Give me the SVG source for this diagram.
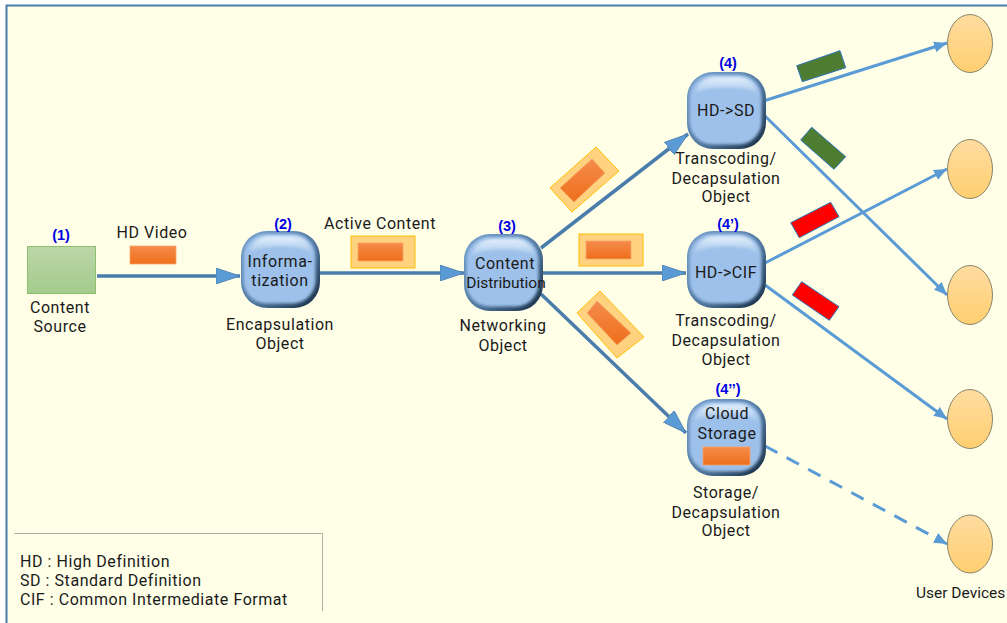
<svg xmlns="http://www.w3.org/2000/svg" width="1007" height="623" viewBox="0 0 1007 623">
<style>
text{font-family:Roboto,"Noto Sans",sans-serif;font-size:16px;letter-spacing:.55px;fill:#1a1a1a;text-anchor:middle}
.n{font-family:"Liberation Sans",Arial,sans-serif;font-size:14.500px;letter-spacing:0;font-weight:bold;fill:#0000e6}
.l{text-anchor:start}
.c{fill:none;stroke:#4a7dac;stroke-width:3.500}
.u{fill:none;stroke:#5b9bd5;stroke-width:3}
.ell{fill:url(#pe);stroke:#8a8468;stroke-width:1}
.or{fill:url(#po);stroke:#f4a46a;stroke-width:.8}
.hl{fill:#ffd27f;stroke:#ffc000;stroke-width:1}
.gr{fill:#4e7d32;stroke:#2e75b6;stroke-width:1}
.rd{fill:#ff0000;stroke:#2e75b6;stroke-width:1}
</style>
<defs>
<linearGradient id="pe" x1="0" y1="0" x2="0" y2="1"><stop offset="0" stop-color="#ffdca0"/><stop offset="1" stop-color="#ffcf70"/></linearGradient>
<linearGradient id="po" x1="0" y1="0" x2="0" y2="1"><stop offset="0" stop-color="#f58b4c"/><stop offset="1" stop-color="#ee6f1a"/></linearGradient>
<linearGradient id="pg" x1="0" y1="0" x2="0" y2="1"><stop offset="0" stop-color="#bcd6a8"/><stop offset="1" stop-color="#a4cb8c"/></linearGradient>
<linearGradient id="edge" x1="0" y1="0" x2="1" y2="1"><stop offset="0" stop-color="#6f9bc8"/><stop offset=".55" stop-color="#4f779f"/><stop offset="1" stop-color="#14283e"/></linearGradient>
<linearGradient id="hi" x1="0" y1="0" x2="0" y2="1"><stop offset="0" stop-color="#e4f0fb"/><stop offset="1" stop-color="#a5c6ec"/></linearGradient>
<filter id="soft" x="-10%" y="-10%" width="120%" height="120%"><feGaussianBlur stdDeviation="1.600"/></filter>
<marker id="a1" viewBox="0 0 24 16" refX="24" refY="8" markerWidth="24" markerHeight="16" markerUnits="userSpaceOnUse" orient="auto"><path d="M0 0L24 8L0 16Z" fill="#5b9bd5" stroke="#4a7dac" stroke-width=".8"/></marker>
<marker id="a2" viewBox="0 0 13 11" refX="13" refY="5.500" markerWidth="13" markerHeight="11" markerUnits="userSpaceOnUse" orient="auto"><path d="M0 0L13 5.500L0 11Z" fill="#5b9bd5"/></marker>
<symbol id="blob" viewBox="0 0 79 77" overflow="visible">
<rect x="0" y="0" width="79" height="77" rx="26" fill="url(#edge)"/>
<rect x="2.500" y="2.500" width="72" height="70" rx="23" fill="#9dc1ea" filter="url(#soft)"/>
<path d="M8 22C10 9 20 5 30 5H50C60 5 69 10 71 22C60 13 20 13 8 22Z" fill="url(#hi)" filter="url(#soft)"/>
</symbol>
</defs>
<rect width="1007" height="623" fill="#ffffff"/>
<rect x="6.500" y="5.500" width="1010" height="630" fill="#ffffe8" stroke="#4a7dac" stroke-width="2"/>

<g id="connectors">
<path class="c" marker-end="url(#a1)" d="M97 276H240"/>
<path class="c" marker-end="url(#a1)" d="M320 273H464"/>
<path class="c" marker-end="url(#a1)" d="M541 248L688 134"/>
<path class="c" marker-end="url(#a1)" d="M543 273H686"/>
<path class="c" marker-end="url(#a1)" d="M541 294L686 433"/>
<path class="u" marker-end="url(#a2)" d="M765 100.500L947 43"/>
<path class="u" marker-end="url(#a2)" d="M765 116L947 295"/>
<path class="u" marker-end="url(#a2)" d="M765 263L947 169"/>
<path class="u" marker-end="url(#a2)" d="M765 285L947 419"/>
<path class="u" marker-end="url(#a2)" stroke-dasharray="14 10.500" d="M765 446L947 544"/>
</g>

<g id="packets">
<rect class="or" x="130" y="246" width="46" height="18"/>
<rect class="hl" x="351" y="236" width="64" height="32"/>
<rect class="or" x="358" y="243" width="45" height="18"/>
<polygon class="hl" points="596,147 619,171 572,212 550,188"/>
<polygon class="or" points="592,159 605,173 574,202 560,188"/>
<rect class="hl" x="579" y="234" width="64" height="32"/>
<rect class="or" x="586" y="241" width="45" height="18"/>
<polygon class="hl" points="600,291 644,337 617,358 577,313"/>
<polygon class="or" points="597,301 631,333 617,345 587,313"/>
<polygon class="gr" points="796.700,65.700 840,50.700 845.700,67.700 802.300,81.700"/>
<polygon class="gr" points="811.700,127.300 845.700,156.700 834,169.300 800.700,140"/>
<polygon class="rd" points="790.700,222.700 830.700,202.300 839,216.700 799.300,237.700"/>
<polygon class="rd" points="801.700,281.700 839,306.700 829.300,320.300 792.300,295"/>
</g>

<g id="node1"><rect x="27.500" y="246.500" width="68" height="47" fill="url(#pg)" stroke="#8fbf70"/>
<text class="n" x="61" y="240">(1)</text>
<text x="60" y="313">Content</text><text x="60" y="332">Source</text></g>

<g id="node2"><use href="#blob" x="241" y="231" width="79" height="77"/>
<text class="n" x="283" y="229">(2)</text>
<text x="280" y="267">Informa-</text><text x="280" y="286">tization</text>
<text x="280" y="330">Encapsulation</text><text x="280" y="349">Object</text></g>

<g id="node3"><use href="#blob" x="464" y="234" width="79" height="77"/>
<text class="n" x="507" y="231">(3)</text>
<text x="505" y="269">Content</text><text x="506" y="288" style="letter-spacing:0;font-size:15.500px">Distribution</text>
<text x="503" y="331">Networking</text><text x="503" y="351">Object</text></g>

<g id="node4"><use href="#blob" x="687" y="72" width="79" height="77"/>
<text class="n" x="728" y="68">(4)</text>
<text x="726" y="116">HD-&gt;SD</text>
<text x="726" y="164">Transcoding/</text><text x="726" y="184">Decapsulation</text><text x="726" y="202">Object</text></g>

<g id="node4p"><use href="#blob" x="687" y="231" width="79" height="77"/>
<text class="n" x="728" y="229">(4’)</text>
<text x="726" y="278">HD-&gt;CIF</text>
<text x="726" y="326">Transcoding/</text><text x="726" y="346">Decapsulation</text><text x="726" y="365">Object</text></g>

<g id="node4pp"><use href="#blob" x="687" y="399" width="79" height="77"/>
<text class="n" x="728" y="394">(4’’)</text>
<text x="727" y="419">Cloud</text><text x="727" y="439">Storage</text>
<rect class="or" x="703" y="447" width="47" height="18"/>
<text x="726" y="498">Storage/</text><text x="726" y="518">Decapsulation</text><text x="726" y="536">Object</text></g>

<g id="devices">
<ellipse class="ell" cx="970" cy="43.500" rx="22.500" ry="29"/>
<ellipse class="ell" cx="970" cy="169" rx="22.500" ry="29.500"/>
<ellipse class="ell" cx="970" cy="295" rx="22.500" ry="29.500"/>
<ellipse class="ell" cx="970" cy="419" rx="22.500" ry="29.500"/>
<ellipse class="ell" cx="970" cy="544" rx="22.500" ry="29"/>
<text class="l" x="916" y="598" style="letter-spacing:0;font-size:15.500px">User Devices</text>
</g>

<g id="labels">
<text x="152" y="238">HD Video</text>
<text x="380" y="229">Active Content</text>
</g>

<g id="legend">
<path d="M14 533.500H322.500V611" fill="none" stroke="#b0b0a8" stroke-width="1"/>
<text class="l" x="20" y="567">HD : High Definition</text>
<text class="l" x="20" y="586">SD : Standard Definition</text>
<text class="l" x="20" y="605">CIF : Common Intermediate Format</text>
</g>
</svg>
